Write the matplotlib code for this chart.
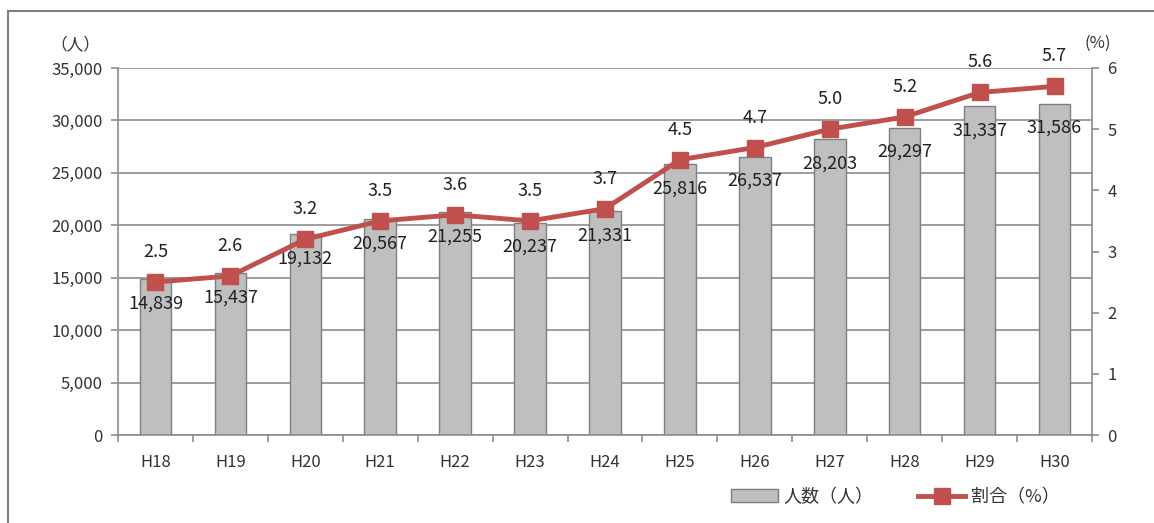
import matplotlib
matplotlib.use("Agg")
import matplotlib.pyplot as plt
from matplotlib.patches import Rectangle
from matplotlib.lines import Line2D

plt.rcParams['font.family'] = ['Noto Sans CJK JP', 'DejaVu Sans']

categories = ["H18", "H19", "H20", "H21", "H22", "H23", "H24", "H25", "H26", "H27", "H28", "H29", "H30"]
people = [14839, 15437, 19132, 20567, 21255, 20237, 21331, 25816, 26537, 28203, 29297, 31337, 31586]
ratio = [2.5, 2.6, 3.2, 3.5, 3.6, 3.5, 3.7, 4.5, 4.7, 5.0, 5.2, 5.6, 5.7]
people_labels = ["14,839", "15,437", "19,132", "20,567", "21,255", "20,237", "21,331",
                 "25,816", "26,537", "28,203", "29,297", "31,337", "31,586"]
ratio_labels = ["2.5", "2.6", "3.2", "3.5", "3.6", "3.5", "3.7", "4.5", "4.7", "5.0", "5.2", "5.6", "5.7"]
left_ticks = [0, 5000, 10000, 15000, 20000, 25000, 30000, 35000]
left_tick_labels = ["0", "5,000", "10,000", "15,000", "20,000", "25,000", "30,000", "35,000"]
right_ticks = [0, 1, 2, 3, 4, 5, 6]

W, H = 1154, 523
fig = plt.figure(figsize=(W / 100, H / 100), dpi=100)
fig.patch.set_facecolor("white")

# outer frame (left and top edges visible)
fig.add_artist(Line2D([8 / W, 8 / W], [0, 1 - 11 / H], transform=fig.transFigure, color="#808080", lw=1.5))
fig.add_artist(Line2D([8 / W, 1], [1 - 11 / H, 1 - 11 / H], transform=fig.transFigure, color="#808080", lw=1.5))

left, right, top, bottom = 118, 1092, 68, 435
ax = fig.add_axes([left / W, 1 - bottom / H, (right - left) / W, (bottom - top) / H])
ax2 = ax.twinx()

grid_c = "#8c8c8c"
txt_c = "#333333"
x = list(range(len(categories)))
ax.bar(x, people, width=0.42, color="#bfbfbf", edgecolor="#7f7f7f", lw=1.0, zorder=2)
ax.set_xlim(-0.5, len(categories) - 0.5)
ax.set_ylim(0, 35000)
ax.set_yticks(left_ticks)
ax.set_yticklabels(left_tick_labels)
ax.yaxis.grid(True, color=grid_c, lw=1.2, zorder=0)
ax.set_axisbelow(True)
ax.set_xticks(x)
ax.set_xticklabels(categories)
ax.set_xticks([i - 0.5 for i in range(len(categories) + 1)], minor=True)
ax.tick_params(axis="x", which="major", length=0, pad=14, labelsize=12, labelcolor=txt_c)
ax.tick_params(axis="x", which="minor", length=5, color=grid_c, width=1.2)
ax.tick_params(axis="y", length=5, color=grid_c, width=1.2, labelsize=12, labelcolor=txt_c, pad=6)
for s in ["top", "right"]:
    ax.spines[s].set_visible(False)
ax.spines["left"].set_color(grid_c)
ax.spines["bottom"].set_color(grid_c)
ax.spines["left"].set_linewidth(1.2)
ax.spines["bottom"].set_linewidth(1.2)

ax2.plot(x, ratio, color="#c0504d", lw=3.5, marker="s", markersize=11,
         markerfacecolor="#c0504d", markeredgecolor="#c0504d", zorder=4)
ax2.set_ylim(0, 6)
ax2.set_yticks(right_ticks)
ax2.tick_params(axis="y", length=5, color=grid_c, width=1.2, labelsize=12, labelcolor=txt_c, pad=6)
for s in ["top", "left", "bottom"]:
    ax2.spines[s].set_visible(False)
ax2.spines["right"].set_color(grid_c)
ax2.spines["right"].set_linewidth(1.2)

for i in x:
    ax.annotate(people_labels[i], (i, people[i]), xytext=(0, -24), textcoords="offset pixels",
                ha="center", va="center", fontsize=13, color="#202020", zorder=5)
    ax2.annotate(ratio_labels[i], (i, ratio[i]), xytext=(0, 30), textcoords="offset pixels",
                 ha="center", va="center", fontsize=13, color="#202020", zorder=5)

fig.text(75 / W, 1 - 45 / H, "（人）", ha="center", va="center", fontsize=12, color=txt_c)
fig.text(1098 / W, 1 - 43 / H, "(%)", ha="center", va="center", fontsize=12, color=txt_c)

h1 = Rectangle((0, 0), 1, 1, facecolor="#bfbfbf", edgecolor="#7f7f7f")
h2 = Line2D([], [], color="#c0504d", lw=3.5, marker="s", markersize=11)
fig.legend([h1, h2], ["人数（人）", "割合（%）"], loc="center", bbox_to_anchor=(895 / W, 1 - 497 / H),
           ncol=2, frameon=False, fontsize=13, handlelength=2.6, columnspacing=2.5,
           handletextpad=0.3, labelcolor=txt_c)

fig.savefig("out.png", dpi=100)
